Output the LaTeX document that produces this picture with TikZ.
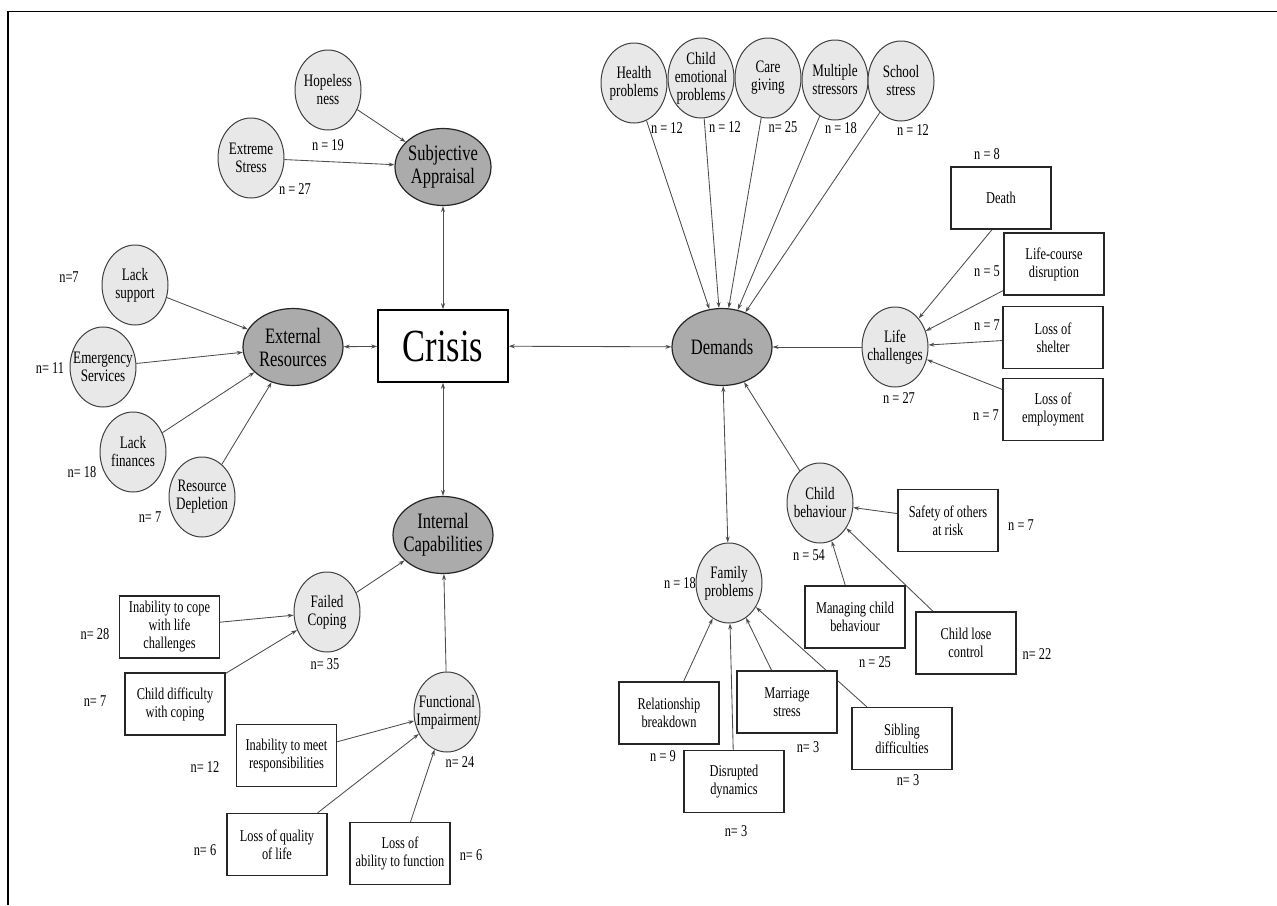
\documentclass[tikz,border=0pt]{standalone}
\usepackage{fontspec}
\setmainfont[FakeStretch=0.75]{Liberation Serif}
\usetikzlibrary{arrows.meta,shapes.geometric}
\pgfdeclarelayer{bg}
\pgfsetlayers{bg,main}
\tikzset{
 smc/.style={ellipse,draw=black!75,fill=black!9,line width=1pt,minimum width=66,minimum height=80,inner sep=0pt},
 smt/.style={align=center,inner sep=0pt,font=\fontsize{17.5}{18}\selectfont},
 catc/.style={ellipse,draw=black!85,fill=black!33,line width=1.2pt,minimum width=100,minimum height=77,inner sep=0pt},
 catt/.style={align=center,inner sep=0pt,font=\fontsize{22}{23}\selectfont},
 bx/.style={rectangle,draw=black!85,fill=white,line width=1.3pt,minimum width=100,minimum height=62,inner sep=0pt,align=center,font=\fontsize{16.5}{18}\selectfont},
 nl/.style={inner sep=0pt,font=\fontsize{16.5}{18}\selectfont},
 ar/.style={draw=black!70,line width=0.85pt,-{Stealth[length=6pt,width=4pt]}},
 bi/.style={draw=black!70,line width=0.85pt,{Stealth[length=6pt,width=4pt]}-{Stealth[length=6pt,width=4pt]}},
}
\newcommand\smallcirc[4]{\node[smc] (#1) at (#2,#3) {}; \node[smt] (#1-t) at (#1) {#4};}
\newcommand\catell[4]{\node[catc] (#1) at (#2,#3) {}; \node[catt] (#1-t) at (#1) {#4};}
\begin{document}
\begin{tikzpicture}[x=1pt,y=-1pt]
\useasboundingbox (0,0) rectangle (1277,905);
\draw[line width=1.5pt] (8,905) -- (8,11.5) -- (1277,11.5);

% centre
\node[draw=black,fill=white,line width=1.5pt,minimum width=130,minimum height=72,inner sep=0pt,font=\fontsize{46}{48}\selectfont] (crisis) at (443,346) {Crisis};

% categories
\node[catc,minimum width=96] (sa) at (443,167) {}; \node[catt] (sa-t) at (sa) {Subjective\\Appraisal};
\catell{er}{293}{347}{External\\Resources}
\catell{ic}{443}{535}{Internal\\Capabilities}
\catell{dm}{722}{347}{Demands}

% subjective appraisal
\smallcirc{hop}{328}{90}{Hopeless\\ness}
\smallcirc{ext}{251}{158}{Extreme\\Stress}
\node[nl] (n-hop) at (328,145) {n = 19};
\node[nl] (n-ext) at (295,189) {n = 27};

% external resources
\smallcirc{ls}{135}{285}{Lack\\support}
\smallcirc{es}{103}{367}{Emergency\\Services}
\smallcirc{lf}{133}{452}{Lack\\finances}
\smallcirc{rd}{202}{497}{Resource\\Depletion}
\node[nl] (n-ls) at (69,277) {n=7};
\node[nl] (n-es) at (50,368) {n= 11};
\node[nl] (n-lf) at (82,472) {n= 18};
\node[nl] (n-rd) at (150,517) {n= 7};

% internal capabilities
\smallcirc{fc}{327}{612}{Failed\\Coping}
\smallcirc{fi}{447}{712}{Functional\\Impairment}
\node[bx] (ic1) at (169.5,627) {Inability to cope\\with life\\challenges};
\node[bx] (ic2) at (175,704) {Child difficulty\\with coping};
\node[bx] (ic3) at (286.5,755.5) {Inability to meet\\responsibilities};
\node[bx] (ic4) at (277,844.5) {Loss of quality\\of life};
\node[bx] (ic5) at (400,853.5) {Loss of\\ability to function};
\node[nl] (n-fc) at (325,664) {n= 35};
\node[nl] (n-fi) at (460,762) {n= 24};
\node[nl] (n-ic1) at (95,634) {n= 28};
\node[nl] (n-ic2) at (95,701) {n= 7};
\node[nl] (n-ic3) at (205,767) {n= 12};
\node[nl] (n-ic4) at (205,850) {n= 6};
\node[nl] (n-ic5) at (471,855) {n= 6};

% demands top
\smallcirc{hp}{634}{83}{Health\\problems}
\smallcirc{cep}{701}{78}{Child\\emotional\\problems}
\smallcirc{cg}{768}{78}{Care\\giving}
\smallcirc{ms}{835}{80}{Multiple\\stressors}
\smallcirc{ss}{901}{81}{School\\stress}
\node[nl] (n-hp) at (667,128) {n = 12};
\node[nl] (n-cep) at (725,127) {n = 12};
\node[nl] (n-cg) at (783,127) {n= 25};
\node[nl] (n-ms) at (841,128) {n = 18};
\node[nl] (n-ss) at (913,130) {n = 12};

% life challenges
\smallcirc{lc}{895}{347}{Life\\challenges}
\node[bx] (de) at (1001,198) {Death};
\node[bx] (lcd) at (1054,264) {Life-course\\disruption};
\node[bx] (losh) at (1053,337.5) {Loss of\\shelter};
\node[bx] (loem) at (1053,409.5) {Loss of\\employment};
\node[nl] (n-lc) at (899,398) {n = 27};
\node[nl] (n-de) at (987,154) {n = 8};
\node[nl] (n-lcd) at (987,271) {n = 5};
\node[nl] (n-losh) at (987,325) {n = 7};
\node[nl] (n-loem) at (986,415) {n = 7};

% child behaviour
\smallcirc{cb}{820}{503}{Child\\behaviour}
\node[bx] (sor) at (948,520.5) {Safety of others\\at risk};
\node[bx] (mcb) at (855,617) {Managing child\\behaviour};
\node[bx] (clc) at (966,643) {Child lose\\control};
\node[nl] (n-cb) at (809,555) {n = 54};
\node[nl] (n-sor) at (1021,525) {n = 7};
\node[nl] (n-mcb) at (875,662) {n = 25};
\node[nl] (n-clc) at (1037,654) {n= 22};

% family problems
\smallcirc{fp}{729}{583}{Family\\problems}
\node[bx] (rb) at (669,713) {Relationship\\breakdown};
\node[bx] (dd) at (734,781.5) {Disrupted\\dynamics};
\node[bx] (mst) at (787,702) {Marriage\\stress};
\node[bx] (sd) at (902,738.5) {Sibling\\difficulties};
\node[nl] (n-fp) at (680,583) {n = 18};
\node[nl] (n-rb) at (663,756) {n = 9};
\node[nl] (n-dd) at (736,831) {n= 3};
\node[nl] (n-mst) at (808,747) {n= 3};
\node[nl] (n-sd) at (908,780) {n= 3};

\begin{pgfonlayer}{bg}
\draw[bi] (sa) -- (crisis);
\draw[bi] (er) -- (crisis);
\draw[bi] (ic) -- (crisis);
\draw[bi] (dm) -- (crisis);
\draw[ar] (hop) -- (sa);
\draw[ar] (ext) -- (sa);
\draw[ar] (ls) -- (er);
\draw[ar] (es) -- (er);
\draw[ar] (lf) -- (er);
\draw[ar] (rd) -- (er);
\draw[ar] (fc) -- (ic);
\draw[ar] (fi) -- (ic);
\draw[ar] (ic1) -- (fc);
\draw[ar] (ic2) -- (fc);
\draw[ar] (ic3) -- (fi);
\draw[ar] (ic4) -- (fi);
\draw[ar] (ic5) -- (fi);
\draw[ar] (hp) -- (dm);
\draw[ar] (cep) -- (dm);
\draw[ar] (cg) -- (dm);
\draw[ar] (ms) -- (dm);
\draw[ar] (ss) -- (dm);
\draw[ar] (lc) -- (dm);
\draw[ar] ([xshift=-9pt]de.south) -- (lc);
\draw[ar] (lcd) -- (lc);
\draw[ar] (losh) -- (lc);
\draw[ar] (loem) -- (lc);
\draw[ar] (cb) -- (dm);
\draw[ar] (sor) -- (cb);
\draw[ar] (mcb) -- (cb);
\draw[ar] (clc) -- (cb);
\draw[bi] (dm) -- (fp);
\draw[ar] (rb) -- (fp);
\draw[ar] (dd) -- (fp);
\draw[ar] (mst) -- (fp);
\draw[ar] (sd) -- (fp);
\end{pgfonlayer}
\end{tikzpicture}
\end{document}
